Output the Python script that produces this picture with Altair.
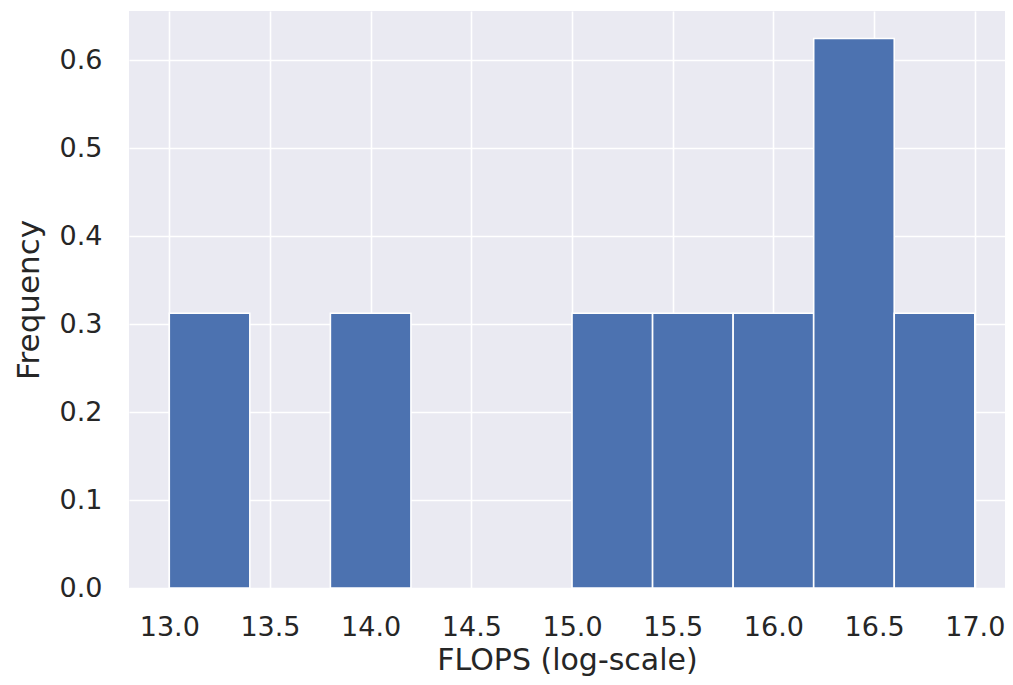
import altair as alt
import pandas as pd

bin_start = [13.0, 13.4, 13.8, 14.2, 14.6, 15.0, 15.4, 15.8, 16.2, 16.6]
bin_end = [13.4, 13.8, 14.2, 14.6, 15.0, 15.4, 15.8, 16.2, 16.6, 17.0]
frequency = [0.3125, 0.0, 0.3125, 0.0, 0.0, 0.3125, 0.3125, 0.3125, 0.625, 0.3125]

x_ticks = [13.0, 13.5, 14.0, 14.5, 15.0, 15.5, 16.0, 16.5, 17.0]
y_ticks = [0.0, 0.1, 0.2, 0.3, 0.4, 0.5, 0.6]

df = pd.DataFrame({"start": bin_start, "end": bin_end, "freq": frequency})
df = df[df["freq"] > 0]

TEXT = "#262626"

chart = (
    alt.Chart(df)
    .mark_rect(color="#4C72B0", stroke="white", strokeWidth=1.6)
    .encode(
        x=alt.X(
            "start:Q",
            scale=alt.Scale(domain=[12.8, 17.15], nice=False, zero=False),
            axis=alt.Axis(
                values=x_ticks,
                format=".1f",
                title="FLOPS (log-scale)",
                labelPadding=26,
                titleBaseline="alphabetic",
                titlePadding=29,
                titleFontSize=30,
            ),
        ),
        x2="end:Q",
        y=alt.Y(
            "freq:Q",
            scale=alt.Scale(domain=[0, 0.65625], nice=False),
            axis=alt.Axis(
                values=y_ticks,
                format=".1f",
                title="Frequency",
                labelPadding=27,
                titlePadding=14,
            ),
        ),
        y2=alt.datum(0),
    )
    .properties(
        width=876,
        height=577,
        autosize=alt.AutoSizeParams(type="none"),
        padding={"left": 121, "top": 3, "right": 0, "bottom": 92},
        background="white",
    )
    .configure_view(fill="#EAEAF2", stroke=None)
    .configure_axis(
        grid=True,
        gridColor="white",
        gridWidth=1.6,
        domain=False,
        ticks=False,
        tickSize=0,
        labelFont="DejaVu Sans",
        titleFont="DejaVu Sans",
        labelFontSize=27,
        titleFontSize=31,
        labelColor=TEXT,
        titleColor=TEXT,
        titleFontWeight="normal",
        labelFlush=False,
        labelOverlap=False,
    )
)

chart.save("out.html", embed_options={"renderer": "svg", "actions": False})
